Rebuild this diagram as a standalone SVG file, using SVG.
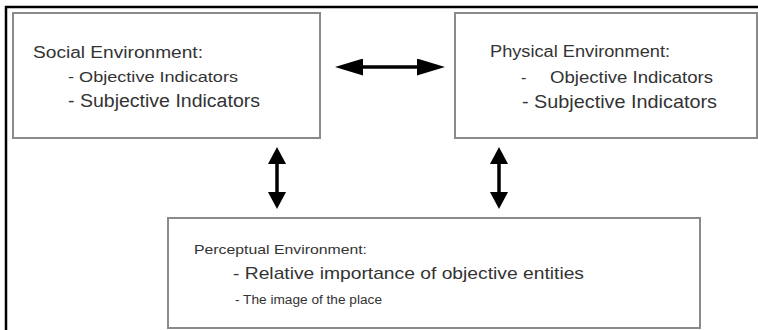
<svg xmlns="http://www.w3.org/2000/svg" width="758" height="330" viewBox="0 0 758 330">
  <style>
    .box { fill: #ffffff; stroke: #8a8a8a; stroke-width: 2; }
    .frame { fill: none; stroke: #000000; stroke-width: 2.5; }
    .txt { font-family: "Liberation Sans", Arial, sans-serif; fill: #333333; }
    .link { fill: none; stroke: #000000; stroke-width: 3.5; }
    .head { fill: #000000; stroke: none; }
  </style>
  <defs>
    <marker id="headH" markerUnits="userSpaceOnUse" markerWidth="28" markerHeight="17" refX="14" refY="8.5" orient="auto-start-reverse">
      <path class="head" d="M0,0 L28,8.5 L0,17 Z"/>
    </marker>
    <marker id="headV" markerUnits="userSpaceOnUse" markerWidth="17" markerHeight="18" refX="8.5" refY="9" orient="auto-start-reverse">
      <path class="head" d="M0,0 L17,9 L0,18 Z"/>
    </marker>
  </defs>

  <rect width="758" height="330" fill="#ffffff"/>
  <path class="frame" d="M6,330 V7 H758"/>

  <g id="social">
    <rect class="box" x="13" y="13" width="307" height="125"/>
    <text class="txt" x="33" y="57.5" font-size="16" textLength="170" lengthAdjust="spacingAndGlyphs">Social Environment:</text>
    <text class="txt" x="68" y="81.5" font-size="15.5" textLength="170" lengthAdjust="spacingAndGlyphs">- Objective Indicators</text>
    <text class="txt" x="68" y="106.5" font-size="18" textLength="192" lengthAdjust="spacingAndGlyphs">- Subjective Indicators</text>
  </g>

  <g id="physical">
    <rect class="box" x="455" y="13" width="302" height="125" stroke="#9a9a9a"/>
    <text class="txt" x="490" y="57" font-size="16" textLength="180" lengthAdjust="spacingAndGlyphs">Physical Environment:</text>
    <text class="txt" x="521" y="82.5" font-size="16" fill="#222222">-</text>
    <text class="txt" x="550" y="82.5" font-size="16" textLength="163" lengthAdjust="spacingAndGlyphs" fill="#222222">Objective Indicators</text>
    <text class="txt" x="522" y="108" font-size="18.5" textLength="195" lengthAdjust="spacingAndGlyphs">- Subjective Indicators</text>
  </g>

  <g id="perceptual">
    <rect class="box" x="168" y="218" width="532" height="110"/>
    <text class="txt" x="194" y="254" font-size="12.8" textLength="173" lengthAdjust="spacingAndGlyphs">Perceptual Environment:</text>
    <text class="txt" x="233" y="278.5" font-size="17" textLength="351" lengthAdjust="spacingAndGlyphs">- Relative importance of objective entities</text>
    <text class="txt" x="235" y="304" font-size="12.5" textLength="147" lengthAdjust="spacingAndGlyphs">- The image of the place</text>
  </g>

  <g id="connectors">
    <path class="link" d="M349,67 H431" marker-start="url(#headH)" marker-end="url(#headH)"/>
    <path class="link" d="M277,155.5 V200.5" marker-start="url(#headV)" marker-end="url(#headV)"/>
    <path class="link" d="M499,155.5 V200.5" marker-start="url(#headV)" marker-end="url(#headV)"/>
  </g>
</svg>
